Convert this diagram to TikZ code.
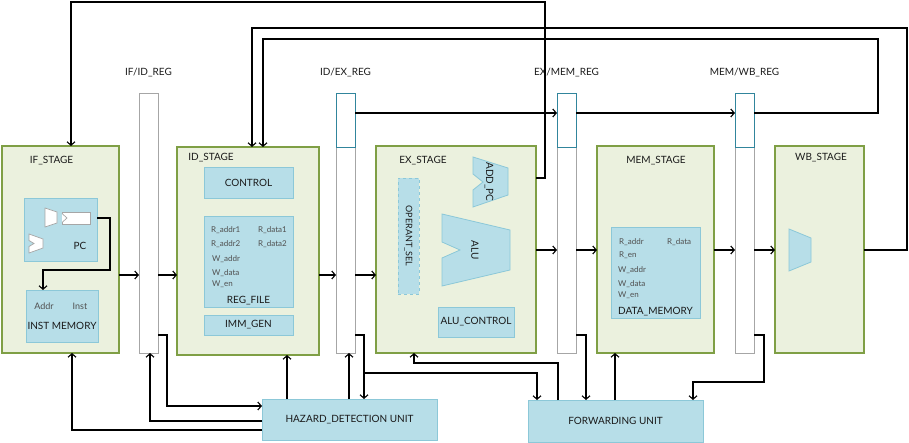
\documentclass[tikz,border=0pt]{standalone}
\usepackage{fontspec}
\setmainfont{Lato}
\usetikzlibrary{arrows.meta}

\definecolor{stgreen}{HTML}{7F9F45}
\definecolor{stfill}{HTML}{EBF1DE}
\definecolor{blkfill}{HTML}{B7DEE8}
\definecolor{blkline}{HTML}{8CC8D8}
\definecolor{reggray}{HTML}{A6A6A6}
\definecolor{regteal}{HTML}{31859C}
\definecolor{txt}{HTML}{1A1A1A}
\definecolor{subtxt}{HTML}{505050}

\tikzset{
  stage/.style={draw=stgreen, fill=stfill, line width=1.2pt, outer sep=0pt, inner sep=0pt},
  blk/.style={draw=blkline, fill=blkfill, line width=0.8pt, outer sep=0pt, inner sep=0pt,
    text=txt, font=\fontsize{10}{11}\selectfont},
  reg/.style={draw=reggray, fill=white, line width=0.9pt, outer sep=0pt, inner sep=0pt,
    minimum width=19, minimum height=260},
  regtop/.style={draw=regteal, line width=0.9pt, outer sep=0pt, inner sep=0pt,
    minimum width=19, minimum height=54},
  lbl/.style={text=txt, font=\fontsize{10}{11}\selectfont, inner sep=0pt},
  sub/.style={text=subtxt, font=\fontsize{8}{9}\selectfont, inner sep=0pt, anchor=west},
  part/.style={draw=reggray, fill=white, line width=0.7pt},
  wire/.style={-{Straight Barb[length=3.5pt,width=8pt]}, line width=1.1pt, line join=miter}
}

\begin{document}
\begin{tikzpicture}[x=1pt, y=-1pt]
    \useasboundingbox (0,0) rectangle (909,443);
    \coordinate (datrow) at (0,275);
    \coordinate (exrow) at (0,250);
    \coordinate (ctlrow) at (0,113);
    \coordinate (fbrow) at (0,335);

    % stages
    \node[stage, minimum width=117, minimum height=207] (ifs) at (60.5,249.5) {};
    \node[stage, minimum width=142, minimum height=208] (ids) at (248,251) {};
    \node[stage, minimum width=160, minimum height=207] (exs) at (456,249.5) {};
    \node[stage, minimum width=117, minimum height=207] (mems) at (655.5,249.5) {};
    \node[stage, minimum width=89, minimum height=207] (wbs) at (819.5,249.5) {};
    \node[lbl] (ifslbl) at (51.5,161) {IF\_STAGE};
    \node[lbl] (idslbl) at (211,158) {ID\_STAGE};
    \node[lbl] (exslbl) at (423,161) {EX\_STAGE};
    \node[lbl] (memslbl) at (656,161) {MEM\_STAGE};
    \node[lbl] (wbslbl) at (821,158) {WB\_STAGE};

    % pipeline registers
    \foreach \n/\x in {ifid/148.5, idex/345.5, exmem/566.5, memwb/744.5}
        \node[reg] (\n) at (\x,223) {};
    \foreach \n/\x in {idex/345.5, exmem/566.5, memwb/744.5}
        \node[regtop] (\n top) at (\x,120) {};
    \node[lbl] (ifidlbl) at (ifid.north |- 0,73) {IF/ID\_REG};
    \node[lbl] (idexlbl) at (idex.north |- 0,73) {ID/EX\_REG};
    \node[lbl] (exmemlbl) at (exmem.north |- 0,73) {EX/MEM\_REG};
    \node[lbl] (memwblbl) at (memwb.north |- 0,73) {MEM/WB\_REG};

    % IF
    \node[blk, minimum width=73, minimum height=63] (pc) at (60.5,229.5) {};
    \node[lbl] (pclbl) at (80,246) {PC};
    \draw[part] (45,208) -- (57,212) -- (57,223) -- (45,227) -- cycle;
    \draw[part] (62,212) rectangle (90,224);
    \draw[part] (62,213.5) -- (67,218) -- (62,222.5);
    \draw[part] (29,234) -- (43,239) -- (43,248) -- (29,253) -- (29,246.5) -- (34,243.5) -- (29,240.5) -- cycle;
    \node[blk, minimum width=72, minimum height=52] (imem) at (62,316) {};
    \node[sub, anchor=center, font=\fontsize{9}{10}\selectfont] (addr) at (44,306) {Addr};
    \node[sub, anchor=center, font=\fontsize{9}{10}\selectfont] (inst) at (80,306) {Inst};
    \node[lbl] (imemlbl) at (62,326) {INST MEMORY};

    % ID
    \node[blk, minimum width=89, minimum height=31] (ctrl) at (248.5,182.5) {CONTROL};
    \node[blk, minimum width=89, minimum height=91] (rf) at (248.5,261.5) {};
    \node[sub] (ra1) at (211,230) {R\_addr1};
    \node[sub] (rd1) at (258,230) {R\_data1};
    \node[sub] (ra2) at (211,244) {R\_addr2};
    \node[sub] (rd2) at (258,244) {R\_data2};
    \node[sub] (wa) at (212,259) {W\_addr};
    \node[sub] (wd) at (212,273) {W\_data};
    \node[sub] (we) at (212,284) {W\_en};
    \node[lbl] (rflbl) at (248.5,301) {REG\_FILE};
    \node[blk, minimum width=89, minimum height=20] (imm) at (248.5,325) {IMM\_GEN};

    % EX
    \draw[draw=blkline, fill=blkfill, line width=0.8pt] (473,157) -- (508,168) -- (508,195) -- (473,207)
        -- (473,190) -- (483,182) -- (473,174) -- cycle;
    \node[lbl, rotate=-90] (addpc) at (489,182) {ADD\_PC};
    \draw[draw=blkline, fill=blkfill, line width=0.8pt] (442,214) -- (510,230) -- (510,270) -- (442,286)
        -- (442,258) -- (460,250) -- (442,242) -- cycle;
    \node[lbl, rotate=-90] (alu) at (475,250) {ALU};
    \node[blk, dashed, minimum width=21, minimum height=116] (opsel) at (408.5,236) {};
    \node[lbl, rotate=-90, font=\fontsize{9}{10}\selectfont] (opsellbl) at (opsel) {OPERANT\_SEL};
    \node[blk, minimum width=76, minimum height=30] (aluc) at (476,322) {ALU\_CONTROL};

    % MEM
    \node[blk, minimum width=89, minimum height=91] (dmem) at (655.5,272.5) {};
    \node[sub] (mra) at (619,242) {R\_addr};
    \node[sub] (mrd) at (667,242) {R\_data};
    \node[sub] (mre) at (619,255) {R\_en};
    \node[sub] (mwa) at (618,270) {W\_addr};
    \node[sub] (mwd) at (618,284) {W\_data};
    \node[sub] (mwe) at (618,295) {W\_en};
    \node[lbl] (dmemlbl) at (655.5,312) {DATA\_MEMORY};

    % WB
    \draw[draw=blkline, fill=blkfill, line width=0.8pt] (789,229) -- (811,238) -- (811,262) -- (789,271) -- cycle;

    % hazard / forwarding
    \node[blk, minimum width=175, minimum height=41] (hdu) at (349.5,419.5) {HAZARD\_DETECTION UNIT};
    \node[blk, minimum width=175, minimum height=42] (fwd) at (615.5,421) {FORWARDING UNIT};

    % datapath
    \draw[wire] (pc.east |- 0,218) -| (110,270) -| (imem.north -| 43,0);
    \draw[wire] (ifs.east |- datrow) -- (ifid.west |- datrow);
    \draw[wire] (ifid.east |- datrow) -- (ids.west |- datrow);
    \draw[wire] (ids.east |- datrow) -- (idex.west |- datrow);
    \draw[wire] (idex.east |- datrow) -- (exs.west |- datrow);
    \draw[wire] (exs.east |- exrow) -- (exmem.west |- exrow);
    \draw[wire] (exmem.east |- exrow) -- (mems.west |- exrow);
    \draw[wire] (mems.east |- exrow) -- (memwb.west |- exrow);
    \draw[wire] (memwb.east |- exrow) -- (wbs.west |- exrow);
    \draw[wire] (idex.east |- ctlrow) -- (exmem.west |- ctlrow);
    \draw[wire] (exmem.east |- ctlrow) -- (memwb.west |- ctlrow);

    % feedback on top
    \draw[wire] (exs.east |- 0,178) -| (545,2) -| (ifs.north -| 71,0);
    \draw[wire] (wbs.east |- exrow) -| (907,28) -| (ids.north -| 252,0);
    \draw[wire] (memwb.east |- ctlrow) -| (878,39) -| (ids.north -| 263,0);

    % hazard unit
    \draw[wire] (hdu.west |- 0,430) -| (ifs.south -| 72,0);
    \draw[wire] (hdu.west |- 0,421) -| (ifid.south -| 150,0);
    \draw[wire] (ifid.east |- fbrow) -| (167,406) -- (hdu.west |- 0,406);
    \draw[wire] (hdu.north -| 287,0) -- (ids.south -| 287,0);
    \draw[wire] (hdu.north -| 349,0) -- (idex.south -| 349,0);
    \draw[wire] (idex.east |- fbrow) -| (hdu.north -| 364,0);
    \draw[wire] (364,373) -| (fwd.north -| 537,0);

    % forwarding unit
    \draw[wire] (fwd.north -| 558,0) |- (414,363) -- (exs.south -| 414,0);
    \draw[wire] (exmem.east |- fbrow) -| (fwd.north -| 586,0);
    \draw[wire] (fwd.north -| 615,0) -- (mems.south -| 615,0);
    \draw[wire] (memwb.east |- fbrow) -| (764,382) -| (fwd.north -| 693,0);
\end{tikzpicture}
\end{document}
